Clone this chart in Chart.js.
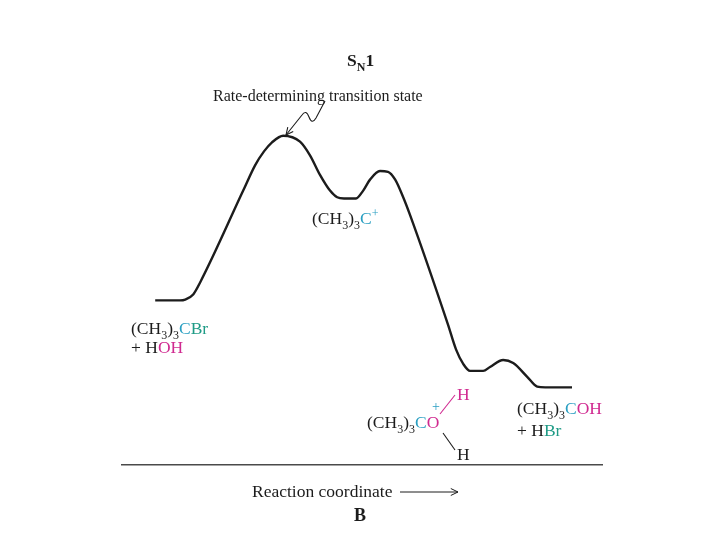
<!DOCTYPE html>
<html>
<head>
<meta charset="utf-8">
<script src="https://cdn.jsdelivr.net/npm/chart.js@4.4.0/dist/chart.umd.min.js"></script>
<style>
  html, body { margin: 0; padding: 0; background: #fff; }
  #wrap { width: 728px; height: 546px; position: relative; }
</style>
</head>
<body>
<div id="wrap"><canvas id="energyChart"></canvas></div>
<script>
// Reaction coordinate (x) and energy (y)
const reactionCoord = [8.3, 14.5, 15.8, 17.8, 19.5, 30.3, 33.3, 35.5, 37.5, 40.3, 44.5, 47, 49.5, 52, 53.8, 55.5, 58.5, 60.3, 62, 64.5, 66.5, 68.3, 70.3, 72, 81.5, 83.5, 85.3, 87, 90.3, 92, 95.3, 97.8, 101.3, 103.8, 105.8, 112.5];
const energy = [42, 42, 42.2, 43.5, 46.5, 70, 76.5, 80, 82.3, 84, 82.5, 79, 74, 70, 68.3, 68, 68, 70, 72.8, 75, 74.8, 72.8, 68.3, 63.8, 35.8, 29.5, 25.8, 24, 24, 25, 26.8, 26, 22.5, 20, 19.8, 19.8];

const xRange = [0, 120];
const yRange = [0, 100];

const titleText = 'Rate-determining transition state';
const axisTitle = 'Reaction coordinate';
const panelLetter = 'B';

const SERIF = '"Liberation Serif", "DejaVu Serif", serif';
const INK = '#1c1c1c';
const CYAN = '#2a9fc2';
const TEAL = '#1f9b86';
const MAGENTA = '#d02a90';

// draws a run of text pieces: [text, color, mode] where mode is '', 'sub' or 'sup'
function drawRich(ctx, x, y, pieces, size, bold) {
    let cx = x;
    pieces.forEach(p => {
        const mode = p[2] || '';
        const s = mode ? Math.round(size * 0.7) : size;
        ctx.font = (bold ? 'bold ' : '') + s + 'px ' + SERIF;
        ctx.fillStyle = p[1];
        let dy = 0;
        if (mode === 'sub') dy = size * 0.28;
        if (mode === 'sup') dy = -size * 0.38;
        ctx.fillText(p[0], cx, y + dy);
        cx += ctx.measureText(p[0]).width;
    });
}

function openArrowHead(ctx, x, y, angle, len) {
    ctx.beginPath();
    ctx.moveTo(x - len * Math.cos(angle - 0.45), y - len * Math.sin(angle - 0.45));
    ctx.lineTo(x, y);
    ctx.lineTo(x - len * Math.cos(angle + 0.45), y - len * Math.sin(angle + 0.45));
    ctx.stroke();
}

const labelsPlugin = {
    id: 'diagramLabels',
    afterDraw(chart) {
        const ctx = chart.ctx;
        ctx.save();
        ctx.textBaseline = 'alphabetic';
        ctx.textAlign = 'left';

        // title
        drawRich(ctx, 347, 66, [['S', INK], ['N', INK, 'sub'], ['1', INK]], 17.5, true);
        ctx.font = '16px ' + SERIF;
        ctx.fillStyle = INK;
        ctx.fillText(titleText, 213, 101);

        // squiggly pointer to the transition state
        ctx.strokeStyle = INK;
        ctx.lineWidth = 1.1;
        ctx.beginPath();
        ctx.moveTo(325, 101);
        ctx.lineTo(316, 118);
        ctx.quadraticCurveTo(312, 125, 309, 117);
        ctx.quadraticCurveTo(306, 109, 302, 115);
        ctx.lineTo(286, 135);
        ctx.stroke();
        openArrowHead(ctx, 286, 135, Math.atan2(135 - 115, 286 - 302), 8);

        const size = 17.5;
        // reactants
        drawRich(ctx, 131, 334, [['(CH', INK], ['3', INK, 'sub'], [')', INK], ['3', INK, 'sub'], ['C', CYAN], ['Br', TEAL]], size);
        drawRich(ctx, 131, 353, [['+ H', INK], ['OH', MAGENTA]], size);

        // carbocation
        drawRich(ctx, 312, 224, [['(CH', INK], ['3', INK, 'sub'], [')', INK], ['3', INK, 'sub'], ['C', CYAN], ['+', CYAN, 'sup']], size);

        // oxonium ion
        drawRich(ctx, 367, 428, [['(CH', INK], ['3', INK, 'sub'], [')', INK], ['3', INK, 'sub'], ['C', CYAN], ['O', MAGENTA]], size);
        ctx.font = '14px ' + SERIF;
        ctx.fillStyle = CYAN;
        ctx.fillText('+', 432, 411);
        ctx.lineWidth = 1.1;
        ctx.strokeStyle = MAGENTA;
        ctx.beginPath();
        ctx.moveTo(440, 414);
        ctx.lineTo(455, 395);
        ctx.stroke();
        ctx.strokeStyle = INK;
        ctx.beginPath();
        ctx.moveTo(443, 433);
        ctx.lineTo(455, 450);
        ctx.stroke();
        ctx.font = size + 'px ' + SERIF;
        ctx.fillStyle = MAGENTA;
        ctx.fillText('H', 457, 400);
        ctx.fillStyle = INK;
        ctx.fillText('H', 457, 460);

        // products
        drawRich(ctx, 517, 414, [['(CH', INK], ['3', INK, 'sub'], [')', INK], ['3', INK, 'sub'], ['C', CYAN], ['OH', MAGENTA]], size);
        drawRich(ctx, 517, 436, [['+ H', INK], ['Br', TEAL]], size);

        // axis caption
        ctx.font = '17.5px ' + SERIF;
        ctx.fillStyle = INK;
        ctx.fillText(axisTitle, 252, 497);
        ctx.lineWidth = 1;
        ctx.beginPath();
        ctx.moveTo(400, 492);
        ctx.lineTo(458, 492);
        ctx.stroke();
        openArrowHead(ctx, 458, 492, 0, 8);
        ctx.font = 'bold 18px ' + SERIF;
        ctx.textAlign = 'center';
        ctx.fillText(panelLetter, 360, 521);

        ctx.restore();
    }
};

const ctx = document.getElementById('energyChart').getContext('2d');
new Chart(ctx, {
    type: 'line',
    data: {
        datasets: [{
            data: reactionCoord.map((x, i) => ({ x: x, y: energy[i] })),
            borderColor: INK,
            borderWidth: 2.4,
            pointRadius: 0,
            fill: false,
            cubicInterpolationMode: 'monotone'
        }]
    },
    options: {
        responsive: true,
        maintainAspectRatio: false,
        animation: false,
        layout: { padding: { left: 122, right: 126, top: 73, bottom: 73 } },
        plugins: {
            legend: { display: false },
            tooltip: { enabled: false }
        },
        scales: {
            x: {
                type: 'linear',
                min: xRange[0],
                max: xRange[1],
                grid: { display: false },
                ticks: { display: false },
                border: { display: true, color: '#4a4a4a', width: 1.5 }
            },
            y: {
                min: yRange[0],
                max: yRange[1],
                display: false
            }
        }
    },
    plugins: [labelsPlugin]
});
</script>
</body>
</html>
